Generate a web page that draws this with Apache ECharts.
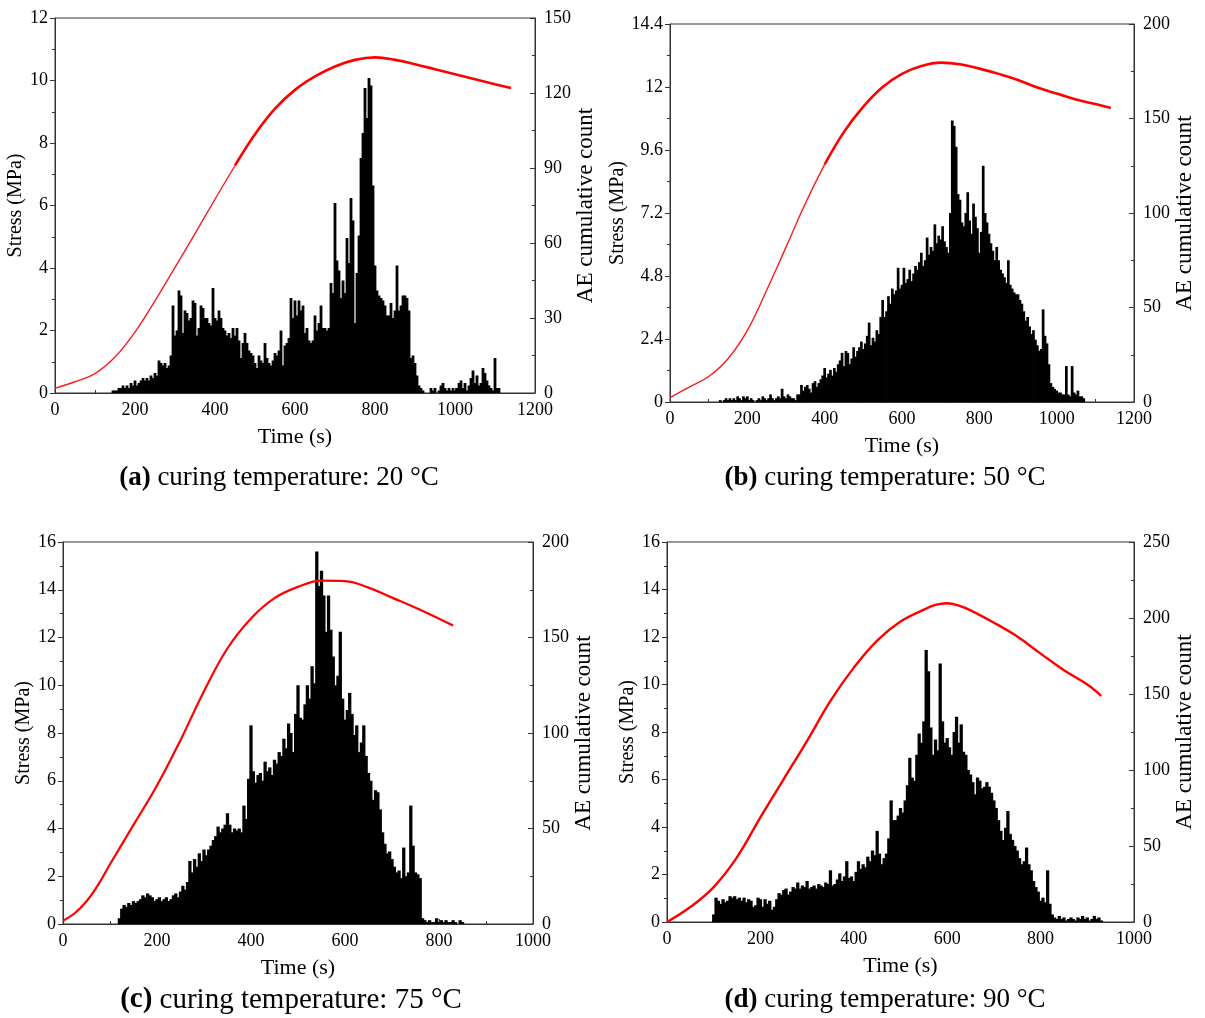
<!DOCTYPE html>
<html><head><meta charset="utf-8">
<script src="https://cdn.jsdelivr.net/npm/echarts@6/dist/echarts.min.js"></script>
<style>html,body{margin:0;padding:0;background:#fff}#c{width:1205px;height:1018px}</style>
</head><body><div id="c"></div>
<script>
// ---------- data ----------
// Stress curves: [time (s), stress (MPa)]
const stressA = [[0,0.15],[50,0.36],[100,0.62],[150,1.15],[200,1.95],[250,2.95],[300,4.02],[350,5.1],[400,6.2],[450,7.28],[500,8.28],[550,9.1],[600,9.7],[650,10.13],[700,10.45],[750,10.66],[800,10.74],[850,10.66],[900,10.52],[950,10.36],[1000,10.2],[1050,10.04],[1100,9.88],[1140,9.76]];
const stressB = [[0,0.17],[50,0.57],[100,0.97],[150,1.65],[200,2.73],[250,4.26],[300,5.9],[350,7.56],[400,9.05],[450,10.29],[500,11.25],[550,12.0],[600,12.5],[650,12.8],[700,12.93],[750,12.87],[800,12.7],[850,12.5],[900,12.27],[950,11.98],[1000,11.75],[1050,11.52],[1100,11.35],[1140,11.2]];
const stressC = [[0,0.14],[25,0.45],[50,0.95],[75,1.65],[100,2.5],[150,4.15],[200,5.8],[250,7.7],[300,9.75],[350,11.55],[400,12.8],[450,13.65],[500,14.12],[550,14.38],[600,14.36],[650,14.09],[700,13.67],[750,13.25],[800,12.79],[830,12.5]];
const stressD = [[0,0],[50,0.63],[100,1.47],[150,2.73],[200,4.41],[250,6.02],[300,7.63],[350,9.31],[400,10.71],[450,11.85],[500,12.65],[550,13.15],[575,13.35],[600,13.42],[625,13.32],[650,13.12],[700,12.6],[750,12.02],[800,11.3],[850,10.6],[900,10.0],[930,9.52]];

// AE cumulative count per 5 s time bin (first bin time given by aeStart*)
const aeStep = 5;
const aeStartA = 140;
const aeA = [0,1,1,1,2,2,3,2,3,2,
 4,3,5,3,4,5,6,5,6,5,
 7,6,8,7,13,12,11,12,10,11,
 15,35,23,25,41,39,24,33,32,29,
 30,37,36,23,26,35,34,30,30,28,
 27,42,30,29,33,30,26,25,23,24,
 22,26,23,26,21,14,20,24,20,17,
 16,15,12,10,15,13,12,20,14,12,
 11,13,16,15,17,25,11,19,20,22,
 38,30,37,31,37,33,35,24,26,21,
 20,21,31,25,28,35,26,26,25,26,
 44,40,76,53,49,38,45,40,62,52,
 78,69,28,48,63,94,104,122,110,126,
 123,83,51,41,39,38,37,35,31,31,
 36,30,33,51,33,35,39,39,38,33,
 14,15,12,7,3,2,1,0,0,0,
 2,1,2,0,1,3,4,2,1,2,
 1,2,1,2,4,5,2,4,1,3,
 6,9,4,7,3,4,10,8,5,3,
 2,1,14,2,2];
const aeStartB = 100;
const aeB = [0,0,0,0,0,0,1,0,1,2,
 1,2,1,2,1,3,2,1,3,2,
 3,1,2,1,0,1,2,1,3,2,
 1,2,4,2,1,2,3,2,7,3,
 2,4,3,2,2,1,4,4,9,6,
 8,9,7,5,10,11,8,10,12,14,
 18,13,15,17,14,18,16,20,22,26,
 19,27,26,20,23,29,24,27,29,32,
 28,31,35,42,30,34,32,38,36,45,
 54,45,48,56,52,60,57,59,71,60,
 62,71,63,65,70,64,68,72,70,74,
 79,72,75,87,78,82,80,94,84,88,
 86,93,85,82,79,100,149,146,135,110,
 107,95,93,100,111,96,89,105,98,92,
 79,90,125,100,95,89,84,80,75,82,
 75,70,68,66,63,75,62,60,58,57,
 57,54,52,48,43,45,40,36,38,33,
 30,27,28,49,35,31,20,10,8,7,
 6,5,5,4,4,19,4,3,19,5,
 4,6,3,3,2];
const aeStartC = 120;
const aeC = [3,8,10,9,11,10,12,11,12,13,
 15,14,16,15,14,12,13,14,12,13,
 14,12,13,15,16,14,17,20,18,22,
 33,27,34,30,37,33,39,36,39,41,
 44,46,51,48,50,52,58,52,48,50,
 49,50,48,62,55,76,104,80,74,78,
 79,75,85,80,82,78,86,84,90,88,
 97,92,105,100,90,110,125,108,107,115,
 125,118,135,126,195,177,185,172,153,172,
 154,140,125,130,153,118,107,112,121,110,
 99,104,90,95,104,88,79,75,65,70,
 69,60,48,42,37,38,34,30,27,28,
 24,40,25,27,62,41,27,26,24,3,
 2,1,2,1,1,3,1,2,1,2,
 1,1,2,1,0,2,1];
const aeStartD = 100;
const aeD = [5,16,14,12,15,13,14,17,16,17,
 15,16,14,16,13,15,14,10,11,16,
 15,10,15,12,14,8,10,15,19,18,
 21,22,18,20,23,22,26,22,24,23,
 27,22,23,24,22,25,24,23,26,25,
 34,24,25,28,32,27,30,40,29,30,
 27,33,40,35,38,36,43,40,47,44,
 60,45,38,42,45,55,80,67,67,70,
 75,72,80,90,108,95,93,110,124,118,
 132,179,165,128,110,120,113,170,132,118,
 121,115,110,125,135,118,130,112,110,100,
 97,92,84,95,93,88,89,92,89,85,
 80,75,67,60,54,62,73,58,54,50,
 47,42,38,40,49,38,34,27,23,20,
 14,16,13,34,12,5,3,2,4,2,
 3,1,2,3,2,1,3,2,4,2,
 3,1,2,4,2,3,1];

// ---------- chart ----------
const FONT = '"Liberation Serif","Times New Roman",serif';
const panels = [
  {grid:{left:55,top:18,width:480,height:375}, xMax:1200, yL:[12,2], yR:[150,30], stress:stressA, ae:aeA, aeStart:aeStartA, cap:'a', temp:'20', capX:279, capY:478, capSize:27, lwThin:1.4, lwThick:2.6, thickFrom:450, sGap:22},
  {grid:{left:670,top:24,width:464,height:378}, xMax:1200, yL:[14.4,2.4], yR:[200,50], stress:stressB, ae:aeB, aeStart:aeStartB, cap:'b', temp:'50', capX:885, capY:478, capSize:27, lwThin:1.4, lwThick:2.6, thickFrom:400, sGap:30},
  {grid:{left:63,top:542,width:470,height:382}, xMax:1000, yL:[16,2], yR:[200,50], stress:stressC, ae:aeC, aeStart:aeStartC, cap:'c', temp:'75', capX:291, capY:1000, capSize:29, lwThin:2.2, lwThick:2.2, thickFrom:0, sGap:28},
  {grid:{left:667,top:542,width:467,height:380}, xMax:1000, yL:[16,2], yR:[250,50], stress:stressD, ae:aeD, aeStart:aeStartD, cap:'d', temp:'90', capX:885, capY:1000, capSize:27, lwThin:2.4, lwThick:2.4, thickFrom:0, sGap:27}
];
const axisLine = {show:true, lineStyle:{color:'#333', width:1}};
const lblBase = {color:'#000', fontFamily:FONT, fontSize:18};
const option = {
  animation:false,
  backgroundColor:'#fff',
  grid:[], xAxis:[], yAxis:[], series:[], graphic:[]
};
panels.forEach((p,i)=>{
  option.grid.push(Object.assign({show:true, borderColor:'#333', borderWidth:1, containLabel:false}, p.grid));
  option.xAxis.push({type:'value', gridIndex:i, min:0, max:p.xMax, interval:200,
    name:'Time (s)', nameLocation:'middle', nameGap:33,
    nameTextStyle:{color:'#000', fontFamily:FONT, fontSize:22},
    axisLine, splitLine:{show:false},
    axisTick:{show:true, inside:true, length:5, lineStyle:{color:'#333'}},
    minorTick:{show:true, splitNumber:2, length:3, lineStyle:{color:'#333'}},
    axisLabel:Object.assign({margin:8, showMinLabel:true, showMaxLabel:true, formatter:v=>String(v)}, lblBase)});
  option.yAxis.push({type:'value', gridIndex:i, position:'left', min:0, max:p.yL[0], interval:p.yL[1],
    name:'Stress (MPa)', nameLocation:'middle', nameGap:p.sGap, nameRotate:90,
    nameTextStyle:{color:'#000', fontFamily:FONT, fontSize:20},
    axisLine, splitLine:{show:false},
    axisTick:{show:true, inside:false, length:5, lineStyle:{color:'#333'}},
    minorTick:{show:true, splitNumber:2, length:3, lineStyle:{color:'#333'}},
    axisLabel:Object.assign({margin:7, formatter:v=>String(+v.toFixed(1))}, lblBase)});
  option.yAxis.push({type:'value', gridIndex:i, position:'right', min:0, max:p.yR[0], interval:p.yR[1],
    name:'AE cumulative count', nameLocation:'middle', nameGap:38, nameRotate:90,
    nameTextStyle:{color:'#000', fontFamily:FONT, fontSize:23},
    axisLine, splitLine:{show:false},
    axisTick:{show:true, inside:true, length:5, lineStyle:{color:'#333'}},
    minorTick:{show:true, splitNumber:2, length:3, lineStyle:{color:'#333'}},
    axisLabel:Object.assign({margin:9, formatter:v=>String(v)}, lblBase)});
  const bw = aeStep * p.grid.width / p.xMax * 1.4;
  option.series.push({type:'bar', xAxisIndex:i, yAxisIndex:2*i+1,
    data:p.ae.map((v,k)=>[p.aeStart + k*aeStep, v]),
    barWidth:bw, itemStyle:{color:'#000'}, z:2, silent:true});
  // stress curve: thin early part, thicker (noisy band) after thickFrom
  const early = p.stress.filter(d=>d[0] <= p.thickFrom);
  const late = p.stress.filter(d=>d[0] >= p.thickFrom);
  if (early.length > 1) option.series.push({type:'line', xAxisIndex:i, yAxisIndex:2*i,
    data:early, smooth:0.4, showSymbol:false, symbol:'none',
    lineStyle:{color:'#ff1a1a', width:p.lwThin}, z:3, silent:true});
  option.series.push({type:'line', xAxisIndex:i, yAxisIndex:2*i,
    data:late, smooth:0.4, showSymbol:false, symbol:'none',
    lineStyle:{color:'#ff0000', width:p.lwThick}, z:3, silent:true});
  option.graphic.push({type:'text', x:p.capX, y:p.capY,
    style:{text:'{b|(' + p.cap + ')} curing temperature: ' + p.temp + ' °C',
      fontFamily:FONT, fontSize:p.capSize, fill:'#000', align:'center', verticalAlign:'middle',
      rich:{b:{fontFamily:FONT, fontSize:p.capSize, fontWeight:'bold', fill:'#000'}}}});
});
const chart = echarts.init(document.getElementById('c'), null, {renderer:'canvas'});
chart.setOption(option);
</script>
</body></html>
